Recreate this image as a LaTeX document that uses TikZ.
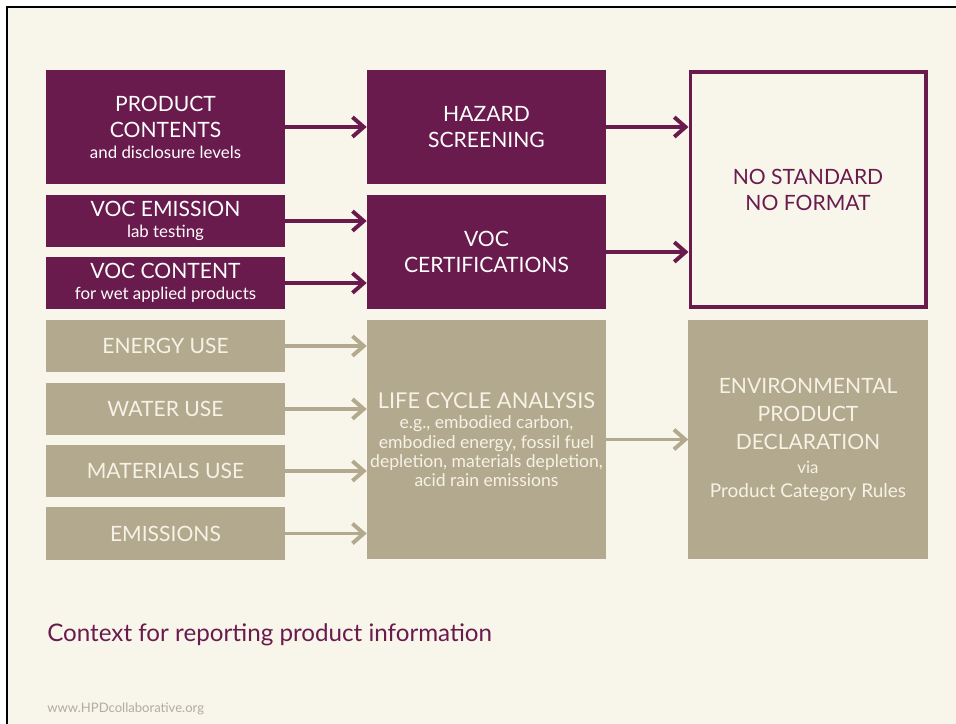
\documentclass[tikz,border=0pt]{standalone}
\usepackage{fontspec}
\setmainfont{Lato}
\usetikzlibrary{arrows.meta}

\definecolor{hpdpurple}{HTML}{6A1B4D}
\definecolor{hpdtaupe}{HTML}{B3A98E}
\definecolor{hpdcream}{HTML}{F8F5EA}
\definecolor{hpdlight}{HTML}{F7F2E6}
\definecolor{hpdgrey}{HTML}{B2ACA2}

\newcommand{\bigtxt}{\fontsize{15}{18.5}\selectfont}
\newcommand{\smalltxt}{\fontsize{12}{14}\selectfont}

\tikzset{
  purplebox/.style={fill=hpdpurple, text=white, minimum width=5.975cm,
    inner sep=0pt, align=center, font=\bigtxt},
  taupebox/.style={fill=hpdtaupe, text=hpdlight, minimum width=5.975cm,
    inner sep=0pt, align=center, font=\bigtxt},
  flowarrow/.style={line width=2.8pt, -{Straight Barb[length=8pt,width=14pt]}},
}

\begin{document}
\begin{tikzpicture}[x=0.025cm, y=-0.025cm]
			\useasboundingbox (0,0) rectangle (956,724);
			\fill[white] (0,0) rectangle (956,724);
			\fill[hpdcream] (7,7) rectangle (956,724);
			\draw[line width=1.4pt] (7,724) -- (7,7) -- (956,7);

			% left column
			\node[purplebox, minimum height=2.85cm] (contents) at (165.5,127)
				{PRODUCT\\CONTENTS\\[-3.5pt]{\smalltxt and disclosure levels}};
			\node[purplebox, minimum height=1.3cm] (emission) at (165.5,221)
				{VOC EMISSION\\[-3.5pt]{\smalltxt lab testing}};
			\node[purplebox, minimum height=1.3cm] (voccontent) at (165.5,283)
				{VOC CONTENT\\[-3.5pt]{\smalltxt for wet applied products}};
			\node[taupebox, minimum height=1.3cm] (energy) at (165.5,346) {ENERGY USE};
			\node[taupebox, minimum height=1.3cm] (water) at (165.5,409) {WATER USE};
			\node[taupebox, minimum height=1.3cm] (materials) at (165.5,471) {MATERIALS USE};
			\node[taupebox, minimum height=1.3cm] (emissions) at (165.5,533.5) {EMISSIONS};

			% middle column
			\node[purplebox, minimum height=2.85cm] (hazard) at (486.5,127) {HAZARD\\SCREENING};
			\node[purplebox, minimum height=2.85cm] (certs) at (486.5,252) {VOC\\CERTIFICATIONS};
			\node[taupebox, minimum height=5.975cm, font=\fontsize{12.5}{13.6}\selectfont] (lca) at (486.5,439.5)
				{{\fontsize{15.5}{18}\selectfont LIFE CYCLE ANALYSIS}\\[1pt]e.g., embodied carbon,\\
				embodied energy, fossil fuel\\depletion, materials depletion,\\acid rain emissions};

			% right column
			\node[draw=hpdpurple, line width=2.8pt, fill=hpdcream, text=hpdpurple,
				minimum width=5.875cm, minimum height=5.875cm, align=center, font=\bigtxt]
				(nostandard) at (808,189.5) {NO STANDARD\\NO FORMAT};
			\node[taupebox, minimum height=5.975cm, font=\fontsize{15}{20}\selectfont] (epd) at (808,439.5)
				{ENVIRONMENTAL\\PRODUCT\\DECLARATION\\[-3.5pt]{\smalltxt via}\\[-3pt]
				{\fontsize{13.5}{16}\selectfont Product Category Rules}};

			% arrows
			\draw[flowarrow, hpdpurple] (contents) -- (hazard);
			\draw[flowarrow, hpdpurple] (emission) -- (emission -| certs.west);
			\draw[flowarrow, hpdpurple] (voccontent) -- (voccontent -| certs.west);
			\draw[flowarrow, hpdpurple] (hazard) -- (hazard -| nostandard.west);
			\draw[flowarrow, hpdpurple] (certs) -- (certs -| nostandard.west);
			\foreach \src in {energy,water,materials,emissions}
				\draw[flowarrow, hpdtaupe] (\src) -- (\src -| lca.west);
			\draw[flowarrow, hpdtaupe] (lca) -- (epd);

			% captions
			\node[anchor=base west, inner sep=0pt, text=hpdpurple, font=\fontsize{17.2}{20}\selectfont]
				(title) at (47,641) {Context for reporting product information};
			\node[anchor=base west, inner sep=0pt, text=hpdgrey, font=\fontsize{9.3}{11}\selectfont]
				(url) at (47,712) {www.HPDcollaborative.org};
		\end{tikzpicture}
\end{document}
